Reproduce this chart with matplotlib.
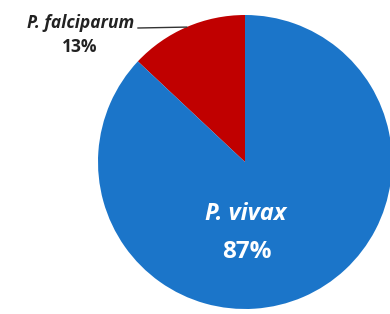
import numpy as np
from matplotlib import pyplot as plt

# species share of cases
labels = ["P. falciparum", "P. vivax"]
shares = [13, 87]
colors = ["#C00000", "#1B75C9"]

fig = plt.figure(figsize=(3.9, 3.14), dpi=100)
ax = fig.add_axes([0, 0, 1, 1])

cx, cy, r = 245, 152, 147
wedges, _ = ax.pie(shares, colors=colors, startangle=90, center=(cx, cy),
                   radius=r, frame=True, wedgeprops=dict(linewidth=0))
ax.set_xlim(0, 390)
ax.set_ylim(0, 314)
ax.set_aspect("equal")
ax.axis("off")

font = dict(family="Open Sans", weight="bold", style="italic")

# small slice: label outside with leader line
w = wedges[0]
mid = np.deg2rad((w.theta1 + w.theta2) / 2)
ex, ey = cx + r * np.cos(mid), cy + r * np.sin(mid)
ax.plot([138, ex], [286, ey], color="#333333", linewidth=1)
ax.text(81, 286, labels[0], ha="center", va="baseline", fontsize=12.5,
        color="#222222", **font)
ax.text(80, 262, "%d%%" % shares[0], ha="center", va="baseline", fontsize=12.5,
        color="#222222", family="Open Sans", weight="bold")

# big slice: label inside
ax.text(246, 94, labels[1], ha="center", va="baseline", fontsize=17,
        color="white", **font)
ax.text(247, 56, "%d%%" % shares[1], ha="center", va="baseline", fontsize=17.5,
        color="white", family="Open Sans", weight="bold")

fig.savefig("out.png", dpi=100)
